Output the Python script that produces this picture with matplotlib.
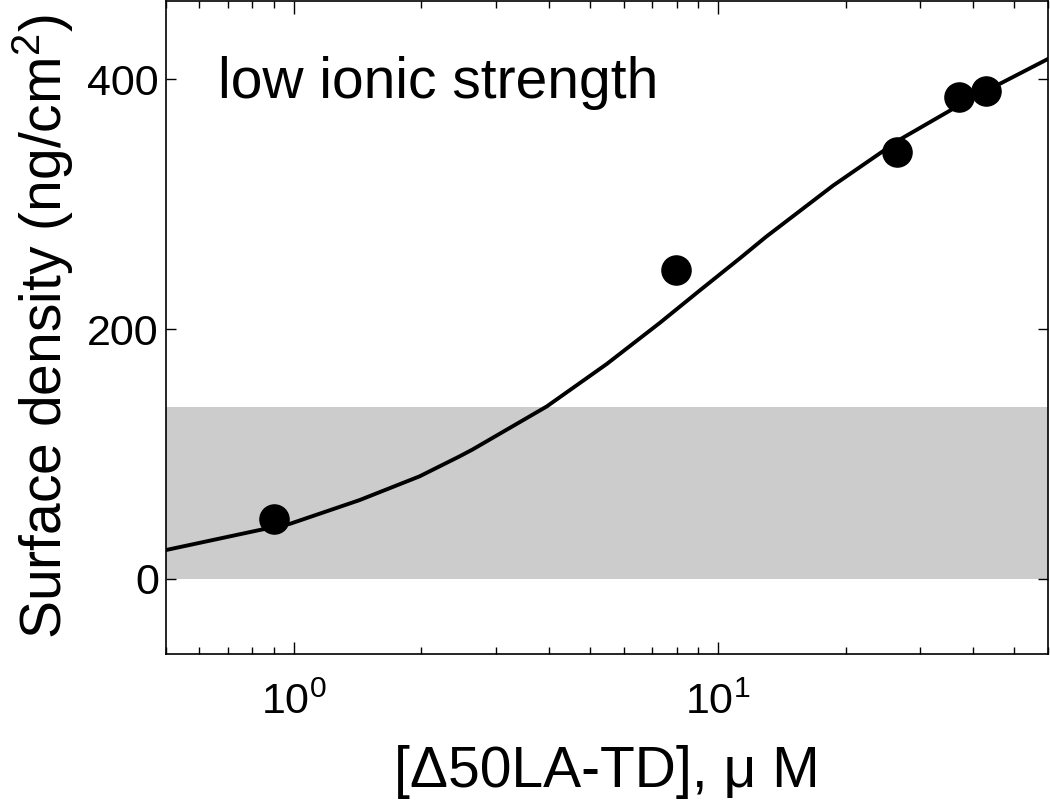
import matplotlib.pyplot as plt
from matplotlib.ticker import LogFormatterMathtext, NullFormatter

plt.rcParams["font.family"] = ["Liberation Sans", "DejaVu Sans"]
plt.rcParams["mathtext.fontset"] = "custom"
plt.rcParams["mathtext.rm"] = "Liberation Sans"
plt.rcParams["mathtext.it"] = "Liberation Sans"

# measured points
conc = [0.90, 7.96, 26.4, 37.0, 42.9]
density = [48, 247, 342, 386, 391]

# fitted curve
fit_conc = [0.50, 0.83, 0.98, 1.43, 1.98, 2.46, 2.64, 3.95, 5.47, 7.30,
            9.07, 11.3, 13.0, 18.7, 26.9, 38.7, 59.7]
fit_density = [23, 39, 44, 63, 82, 98, 103.5, 138, 172, 205,
               231, 257, 274, 315, 352, 383, 416]

# shaded band
band_low = 0
band_high = 138

fig = plt.figure(figsize=(10.5, 8.06), dpi=100)
ax = fig.add_axes([0.158, 0.189, 0.840, 0.810])

ax.axhspan(band_low, band_high, color="#cccccc", lw=0, zorder=0)
ax.plot(fit_conc, fit_density, "-", color="black", lw=2.8, zorder=2,
        solid_joinstyle="round")
ax.plot(conc, density, "o", color="black", ms=21, zorder=3)

ax.set_xscale("log")
ax.set_xlim(0.5, 60)
ax.set_ylim(-60, 463)
ax.set_yticks([0, 200, 400])

ax.xaxis.set_major_formatter(LogFormatterMathtext())
ax.xaxis.set_minor_formatter(NullFormatter())
ax.tick_params(which="both", direction="in", top=True, right=True,
               labelsize=31, width=1)
ax.tick_params(which="major", length=9)
ax.tick_params(which="minor", length=5)
ax.tick_params(axis="x", which="major", pad=21)
ax.tick_params(axis="y", which="major", pad=5, length=7)
for s in ax.spines.values():
    s.set_linewidth(1.2)

ax.text(0.662, 385, "low ionic strength", fontsize=41, va="baseline")

ax.set_xlabel("[Δ50LA-TD], μ M", fontsize=41, labelpad=16)
ax.set_ylabel("Surface density (ng/cm$^2$)", fontsize=41, labelpad=8)

fig.savefig("out.png", dpi=100)
